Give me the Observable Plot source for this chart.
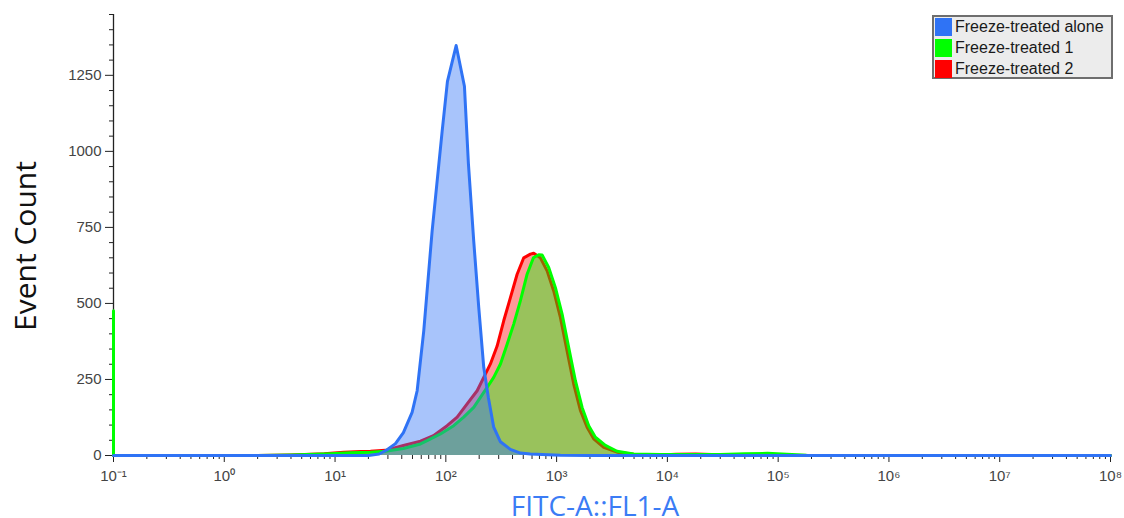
<!DOCTYPE html>
<html><head><meta charset="utf-8">
<script src="https://cdn.jsdelivr.net/npm/d3@7"></script>
<script src="https://cdn.jsdelivr.net/npm/@observablehq/plot@0.6"></script>
<style>
body{margin:0;background:#fff;}
#wrap{position:relative;width:1124px;height:518px;overflow:hidden;font-family:"Liberation Sans",Arial,sans-serif;}
#wrap svg{position:absolute;left:0;top:0;}
.ylab{position:absolute;left:25px;top:246px;transform:translate(-50%,-50%) rotate(-90deg);font-family:"Open Sans",sans-serif;font-size:30px;color:#111;white-space:nowrap;line-height:1;}
.xlab{position:absolute;left:595px;top:494px;height:22px;transform:translateX(-50%);font-family:"Open Sans",sans-serif;font-size:28px;color:#3b7cf5;white-space:nowrap;line-height:22px;}
.legend{position:absolute;left:932px;top:15px;width:177px;height:60px;background:#ececec;border:2px solid #6e6e6e;padding:0;}
.legend .row{position:absolute;left:1px;height:18px;display:flex;align-items:center;font-size:16px;color:#1a1a1a;white-space:nowrap;}
.legend .sw{width:17px;height:18px;margin-right:3px;}
</style></head><body><div id="wrap"></div>
<script>
const seriesNames = ["Freeze-treated alone", "Freeze-treated 1", "Freeze-treated 2"];
const seriesColors = ["#2f73f5", "#00ff00", "#ff0000"];

// Freeze-treated alone (blue)
const aloneX = [0.1, 20, 25, 29.5, 35.1, 41.4, 49.6, 55.1, 63.2, 75.2, 92.6, 103.4, 123.9, 147.2, 160, 178.6, 198.2, 219.9, 242.3, 270.5, 311.1, 382.8, 471.3, 580, 1082, 2000, 1e8];
const aloneCount = [0, 0, 5, 19, 39, 75, 142, 213, 410, 738, 1066, 1230, 1348, 1214, 958, 705, 487, 290, 190, 93, 45, 20, 8, 5, 1, 0, 0];

// Freeze-treated 1 (green)
const t1X = [0.1, 0.1, 2, 3.96, 9.09, 13.8, 20.9, 28.5, 41.4, 59, 67.8, 89.4, 117.8, 145, 178.6, 205.3, 235.9, 270.5, 311.1, 357.5, 410.1, 471.3, 541.6, 617.5, 689.2, 739.8, 848.6, 975.4, 1121, 1286, 1478, 1699, 1949, 2239, 2757, 3516, 4963, 8647, 15000, 30000, 50000, 80000, 120000, 180000, 250000, 1e8];
const t1Count = [476, 0, 0, 2, 6, 9, 11, 14, 23, 38, 49, 71, 98, 126, 158, 191, 224, 257, 301, 366, 432, 509, 596, 650, 660, 659, 618, 552, 465, 355, 246, 158, 98, 60, 33, 14, 5, 3, 3, 3, 6, 7, 4, 1, 0, 0];

// Freeze-treated 2 (red)
const t2X = [0.1, 2, 4, 8, 12, 17, 20.9, 28.5, 41.4, 59, 77.3, 102.7, 126.5, 155.7, 191.7, 219.9, 252.6, 290.4, 333.1, 382.8, 440.1, 504.9, 580, 621.4, 714, 820.8, 941.5, 1082, 1243, 1427, 1640, 1885, 2162, 2662, 3516, 4963, 8647, 12000, 18000, 25000, 50000, 100000, 200000, 1e8];
const t2Count = [0, 0, 2, 6, 11, 13, 14, 17, 33, 47, 65, 98, 126, 170, 213, 257, 301, 360, 443, 519, 596, 650, 662, 665, 650, 607, 541, 454, 344, 235, 148, 93, 55, 27, 11, 4, 2, 4, 5, 3, 2, 1, 0, 0];

const xMajor = [0.1, 1, 10, 100, 1e3, 1e4, 1e5, 1e6, 1e7, 1e8];
const xMajorLabels = ["10⁻¹", "10⁰", "10¹", "10²", "10³", "10⁴", "10⁵", "10⁶", "10⁷", "10⁸"];
const yMajor = [0, 250, 500, 750, 1000, 1250];

const xMinor = [];
for (const d of xMajor.slice(0, -1)) for (let k = 2; k <= 9; k++) xMinor.push(d * k);
const yMinor = d3.range(50, 1451, 50).filter(v => v % 250 !== 0);

const toRows = (xs, ys) => xs.map((x, i) => ({x, y: ys[i]}));
const alone = toRows(aloneX, aloneCount);
const t1 = toRows(t1X, t1Count);
const t2 = toRows(t2X, t2Count);
const xLabelOf = d => xMajorLabels[xMajor.findIndex(v => Math.abs(Math.log10(v) - Math.log10(d)) < 1e-6)];

const font = "'Liberation Sans', Arial, sans-serif";
const chart = Plot.plot({
  width: 1124, height: 518,
  marginLeft: 113, marginRight: 14, marginTop: 14, marginBottom: 63,
  style: {background: "transparent", overflow: "visible"},
  x: {type: "log", domain: [0.1, 1e8]},
  y: {domain: [0, 1450]},
  marks: [
    Plot.ruleX([0.1], {stroke: "#222", strokeWidth: 1.3}),
    Plot.axisX(xMajor, {tickSize: 7, tickPadding: 8, tickFormat: xLabelOf, stroke: "#222", fill: "#444", fontSize: 15, fontFamily: font, label: null}),
    Plot.axisX(xMinor, {tickSize: 4, tickFormat: null, text: null, stroke: "#222", label: null}),
    Plot.axisY(yMinor, {tickSize: 4, tickFormat: null, text: null, stroke: "#222", label: null}),
    Plot.axisY(yMajor, {tickSize: 8, tickPadding: 4, tickFormat: d => String(d), stroke: "#222", fill: "#444", fontSize: 15, fontFamily: font, label: null}),
    Plot.areaY(t2, {x: "x", y: "y", fill: seriesColors[2], fillOpacity: 0.4}),
    Plot.lineY(t2, {x: "x", y: "y", stroke: seriesColors[2], strokeWidth: 3}),
    Plot.areaY(t1, {x: "x", y: "y", fill: seriesColors[1], fillOpacity: 0.4}),
    Plot.lineY(t1, {x: "x", y: "y", stroke: seriesColors[1], strokeWidth: 3}),
    Plot.areaY(alone, {x: "x", y: "y", fill: seriesColors[0], fillOpacity: 0.42}),
    Plot.lineY(alone, {x: "x", y: "y", stroke: seriesColors[0], strokeWidth: 3})
  ]
});

const wrap = document.getElementById("wrap");
wrap.appendChild(chart);

const yl = document.createElement("div");
yl.className = "ylab"; yl.textContent = "Event Count";
wrap.appendChild(yl);
const xl = document.createElement("div");
xl.className = "xlab"; xl.textContent = "FITC-A::FL1-A";
wrap.appendChild(xl);

const lg = document.createElement("div");
lg.className = "legend";
seriesNames.forEach((name, i) => {
  const row = document.createElement("div");
  row.className = "row";
  row.style.top = (1 + i * 21) + "px";
  const sw = document.createElement("span");
  sw.className = "sw"; sw.style.background = seriesColors[i];
  const tx = document.createElement("span");
  tx.textContent = name;
  row.appendChild(sw); row.appendChild(tx);
  lg.appendChild(row);
});
wrap.appendChild(lg);
</script>
</body></html>
